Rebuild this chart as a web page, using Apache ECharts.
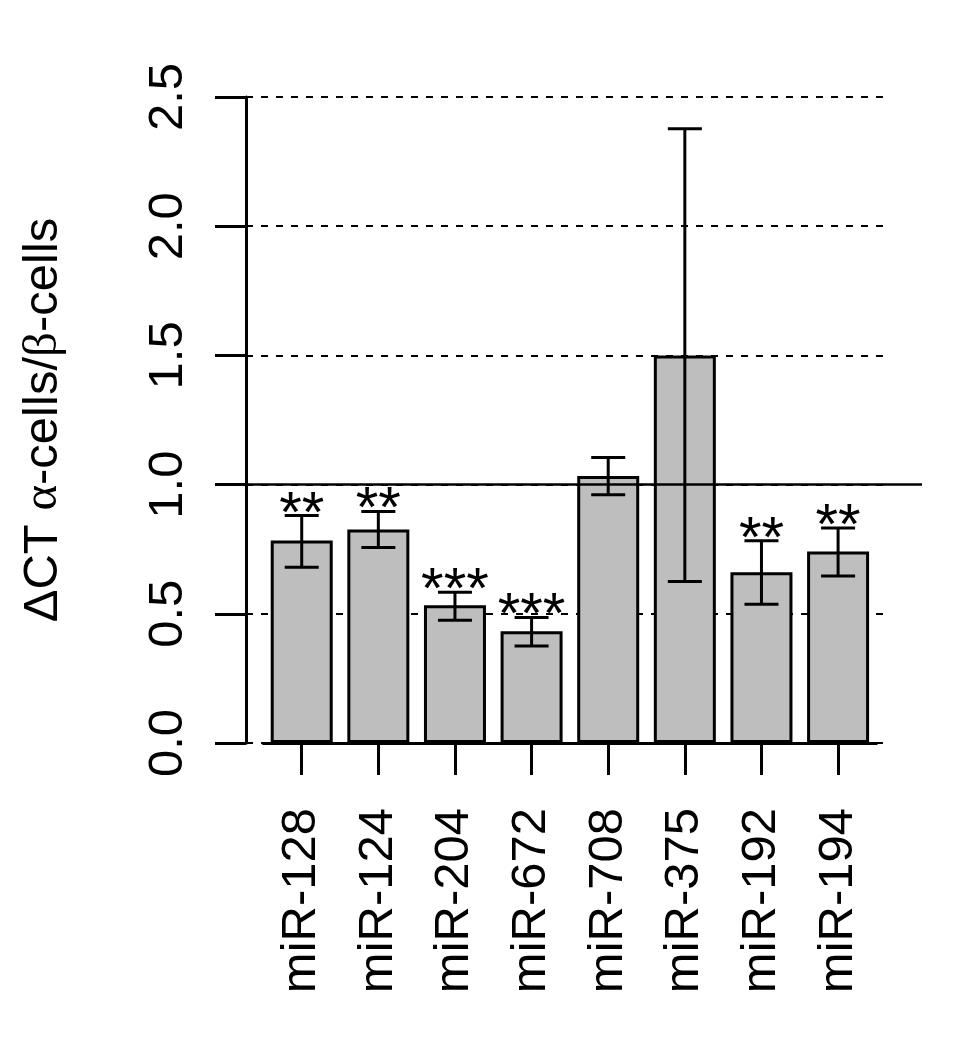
<!DOCTYPE html>
<html>
<head>
<meta charset="utf-8">
<script src="https://cdn.jsdelivr.net/npm/echarts@6/dist/echarts.min.js"></script>
<style>
html, body { margin: 0; padding: 0; background: #fff; }
#chart { width: 960px; height: 1050px; }
</style>
</head>
<body>
<div id="chart"></div>
<script>
var categories = ['miR-128', 'miR-124', 'miR-204', 'miR-672', 'miR-708', 'miR-375', 'miR-192', 'miR-194'];
var meanValues = [0.784, 0.826, 0.533, 0.432, 1.033, 1.500, 0.661, 0.741];
var lowerValues = [0.680, 0.757, 0.475, 0.375, 0.961, 0.625, 0.537, 0.646];
var upperValues = [0.880, 0.896, 0.583, 0.486, 1.105, 2.377, 0.783, 0.832];
var stars = ['**', '**', '***', '***', '', '', '**', '**'];
var yTicks = [0, 0.5, 1.0, 1.5, 2.0, 2.5];
var refLine = 1;

var FONT = '"Liberation Sans", Arial, Helvetica, sans-serif';

// error bar rows: [category index, lower, upper]
var errData = [];
for (var i = 0; i < categories.length; i++) {
    errData.push([i, lowerValues[i], upperValues[i]]);
}

function renderErrorBar(params, api) {
    var idx = api.value(0);
    var lo = api.coord([idx, api.value(1)]);
    var hi = api.coord([idx, api.value(2)]);
    var half = 17;
    var style = { stroke: '#000', lineWidth: 3 };
    var children = [
        { type: 'line', shape: { x1: hi[0], y1: hi[1], x2: lo[0], y2: lo[1] }, style: style },
        { type: 'line', shape: { x1: hi[0] - half, y1: hi[1], x2: hi[0] + half, y2: hi[1] }, style: style },
        { type: 'line', shape: { x1: lo[0] - half, y1: lo[1], x2: lo[0] + half, y2: lo[1] }, style: style }
    ];
    var s = stars[params.dataIndex];
    if (s) {
        children.push({
            type: 'text',
            x: hi[0],
            y: hi[1],
            style: {
                text: s, fill: '#000', fontSize: 58, fontFamily: FONT,
                align: 'center', verticalAlign: 'middle'
            }
        });
    }
    return { type: 'group', children: children };
}

var chart = echarts.init(document.getElementById('chart'));

var option = {
    animation: false,
    backgroundColor: '#fff',
    grid: [
        { left: 263.4, width: 613, top: 97, height: 646 },
        { left: 246, right: 70, top: 97, height: 646 },
        { left: 215, right: 38, top: 97, height: 646 }
    ],
    xAxis: [
        {
            gridIndex: 0,
            type: 'category',
            data: categories,
            axisLine: { show: true, lineStyle: { color: '#000', width: 3 } },
            axisTick: { show: true, alignWithLabel: true, length: 32, lineStyle: { color: '#000', width: 3 } },
            axisLabel: { interval: 0, rotate: 90, fontSize: 49, margin: 65, color: '#000', fontFamily: FONT },
            splitLine: { show: false }
        },
        { gridIndex: 1, type: 'value', min: 0, max: 1, show: false },
        { gridIndex: 2, type: 'value', min: 0, max: 1, show: false }
    ],
    yAxis: [
        { gridIndex: 0, type: 'value', min: yTicks[0], max: yTicks[yTicks.length - 1], show: false },
        {
            gridIndex: 1,
            type: 'value',
            min: yTicks[0],
            max: yTicks[yTicks.length - 1],
            interval: yTicks[1] - yTicks[0],
            axisLine: { show: true, lineStyle: { color: '#000', width: 3 } },
            axisTick: { show: true, length: 31, lineStyle: { color: '#000', width: 3 } },
            axisLabel: {
                rotate: 90, fontSize: 49, margin: 53, color: '#000', fontFamily: FONT,
                formatter: function (v) { return v.toFixed(1); }
            },
            splitLine: { show: true, lineStyle: { color: '#000', width: 2, type: [7, 8] } },
            name: '{d|\u0394}CT {g|\u03b1}-cells/{g|\u03b2}-cells',
            nameLocation: 'middle',
            nameRotate: 90,
            nameGap: 178,
            nameTextStyle: {
                fontSize: 49, color: '#000', fontFamily: FONT,
                rich: {
                    d: { fontSize: 49, fontFamily: FONT, color: '#000' },
                    g: { fontSize: 49, fontFamily: '"Liberation Serif", "DejaVu Serif", serif', color: '#000' }
                }
            }
        },
        { gridIndex: 2, type: 'value', min: yTicks[0], max: yTicks[yTicks.length - 1], show: false }
    ],
    series: [
        {
            type: 'bar',
            xAxisIndex: 0,
            yAxisIndex: 0,
            data: meanValues,
            barWidth: 62,
            itemStyle: { color: '#bebebe', borderColor: '#000', borderWidth: 3 },
            z: 2
        },
        {
            type: 'custom',
            xAxisIndex: 0,
            yAxisIndex: 0,
            data: errData,
            encode: { x: 0, y: [1, 2] },
            renderItem: renderErrorBar,
            z: 3
        },
        {
            type: 'line',
            xAxisIndex: 2,
            yAxisIndex: 2,
            data: [[0, refLine], [1, refLine]],
            symbol: 'none',
            lineStyle: { color: '#000', width: 2.5 },
            z: 4
        }
    ]
};

chart.setOption(option);
</script>
</body>
</html>
